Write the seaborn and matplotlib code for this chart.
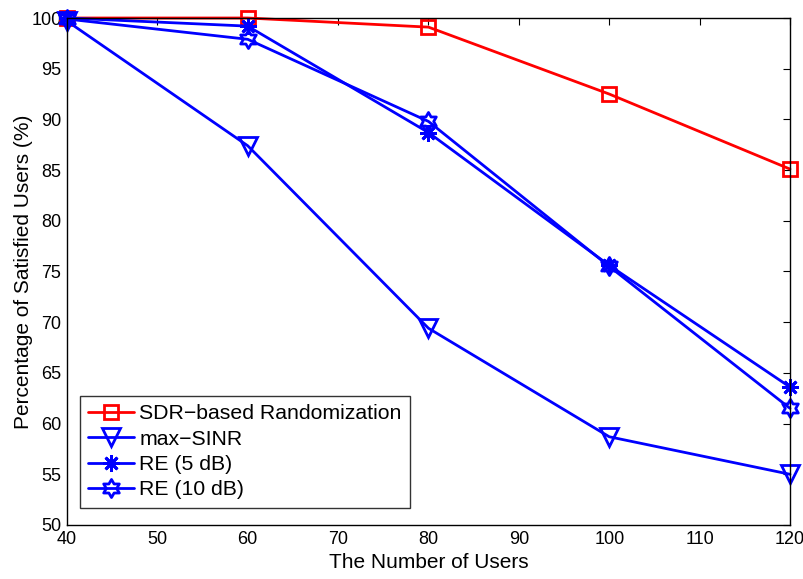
import numpy as np
import pandas as pd
import seaborn as sns
import matplotlib
matplotlib.use("Agg")
import matplotlib.pyplot as plt
from matplotlib.path import Path

users = [40, 60, 80, 100, 120]
sdr = [100.0, 100.0, 99.1, 92.5, 85.1]
max_sinr = [99.7, 87.4, 69.4, 58.7, 55.0]
re5 = [100.0, 99.2, 88.7, 75.6, 63.6]
re10 = [99.9, 97.9, 89.8, 75.5, 61.5]
labels = ["SDR\u2212based Randomization", "max\u2212SINR", "RE (5 dB)", "RE (10 dB)"]
xticks = list(range(40, 121, 10))
yticks = list(range(50, 101, 5))

sns.set_theme(style="white")
plt.rcParams['font.family'] = ['Liberation Sans', 'DejaVu Sans']
plt.rcParams['text.color'] = 'black'
plt.rcParams['axes.labelcolor'] = 'black'

# hexagram outline marker
ang = np.deg2rad(np.arange(12) * 30 + 90)
r = np.where(np.arange(12) % 2 == 0, 1.0, 0.5773)
verts = np.column_stack([r * np.cos(ang), r * np.sin(ang)])
verts = np.vstack([verts, verts[:1]])
hexagram = Path(verts, [Path.MOVETO] + [Path.LINETO] * 11 + [Path.CLOSEPOLY])

fig = plt.figure(figsize=(8.04, 5.79), dpi=100)
ax = fig.add_axes([0.0833, 0.0933, 0.8993, 0.8756])

series = [
    (sdr, "red", "s", 10),
    (max_sinr, "blue", "v", 13),
    (re5, "blue", (8, 2, 0), 12),
    (re10, "blue", hexagram, 13),
]
for (vals, col, mk, ms), lab in zip(series, labels):
    df = pd.DataFrame({"x": users, "y": vals})
    sns.lineplot(data=df, x="x", y="y", ax=ax, color=col, linewidth=2,
                 marker=mk, markersize=ms, markerfacecolor="none",
                 markeredgecolor=col, markeredgewidth=2, label=lab,
                 clip_on=False)

ax.set_xlim(40, 120)
ax.set_ylim(50, 100)
ax.set_xticks(xticks)
ax.set_yticks(yticks)
ax.tick_params(direction="in", length=5, top=True, right=True, labelsize=13,
               colors="black", width=0.8, pad=4)
for s in ax.spines.values():
    s.set_color("black")
    s.set_linewidth(1)
ax.set_xlabel("The Number of Users", fontsize=15, labelpad=4)
ax.set_ylabel("Percentage of Satisfied Users (%)", fontsize=15, labelpad=-1)
leg = ax.legend(loc="lower left", bbox_to_anchor=(0.018, 0.0335), fontsize=15.3,
                frameon=True, fancybox=False, edgecolor="black", borderaxespad=0,
                handlelength=2.15, labelspacing=0.3, handletextpad=0.25,
                borderpad=0.4)
leg.get_frame().set_linewidth(1)
for t in leg.get_texts():
    t.set_color("black")
fig.savefig("out.png", dpi=100)
